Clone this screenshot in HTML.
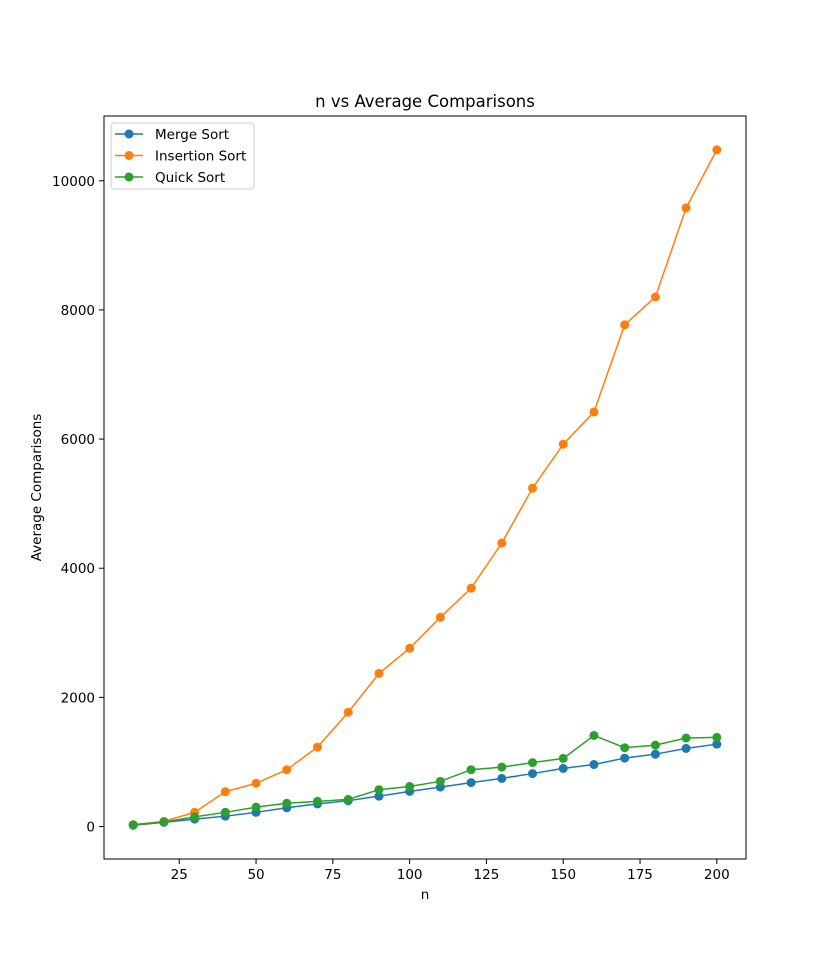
<!DOCTYPE html>
<html><head><meta charset="utf-8"><style>
html,body{margin:0;padding:0;background:#fff;}
svg text{font-family:"DejaVu Sans","Liberation Sans",sans-serif;}
</style></head><body>
<svg id="chart" width="828" height="965" xmlns="http://www.w3.org/2000/svg">
<rect width="828" height="965" fill="#fff"/>
<g id="plot"></g>
</svg>
<script>
const nValues=[10,20,30,40,50,60,70,80,90,100,110,120,130,140,150,160,170,180,190,200];
const mergeSort=[20,65,115,160,220,290,350,400,470,545,610,680,745,820,900,960,1060,1120,1210,1275];
const insertionSort=[30,80,220,540,670,880,1230,1770,2370,2760,3240,3690,4390,5240,5920,6420,7770,8200,9580,10480];
const quickSort=[25,70,150,220,300,360,390,420,570,620,700,880,920,990,1055,1410,1220,1260,1370,1380];
const xTicks=[25,50,75,100,125,150,175,200];
const yTicks=[0,2000,4000,6000,8000,10000];
const seriesNames=["Merge Sort","Insertion Sort","Quick Sort"];
const seriesColors=["#1f77b4","#ff7f0e","#2ca02c"];

const L=104,R=746,T=116,B=859;
const xMin=0.5,xMax=209.5,yMin=-503,yMax=11003;
const sx=v=>L+(v-xMin)/(xMax-xMin)*(R-L);
const sy=v=>B-(v-yMin)/(yMax-yMin)*(B-T);
const NS="http://www.w3.org/2000/svg";
const g=document.getElementById('plot');
function mk(tag,attrs,parent){const e=document.createElementNS(NS,tag);for(const k in attrs)e.setAttribute(k,attrs[k]);(parent||g).appendChild(e);return e;}

const frame=mk('rect',{x:L,y:T,width:R-L,height:B-T,fill:'none',stroke:'#000','stroke-width':1});



xTicks.forEach(t=>{
  const x=sx(t);
  const l=mk('line',{x1:x,x2:x,y1:B,y2:B+5,stroke:'#000'});
  
  
  const tx=mk('text',{x:x,y:B+20,'text-anchor':'middle','font-size':13.5});
  tx.textContent=t;
  
  
});
yTicks.forEach(t=>{
  const y=sy(t);
  const l=mk('line',{x1:L-5,x2:L,y1:y,y2:y,stroke:'#000'});
  
  
  const tx=mk('text',{x:L-9,y:y+5,'text-anchor':'end','font-size':13.5});
  tx.textContent=t;
  
  
});

const xt=mk('text',{x:(L+R)/2,y:899,'text-anchor':'middle','font-size':13.5});
xt.textContent='n';


const yt=mk('text',{x:41,y:(T+B)/2,'text-anchor':'middle','font-size':13.5,transform:`rotate(-90 41 ${(T+B)/2})`});
yt.textContent='Average Comparisons';


const tt=mk('text',{x:(L+R)/2,y:107,'text-anchor':'middle','font-size':16.5});
tt.textContent='n vs Average Comparisons';



[mergeSort,insertionSort,quickSort].forEach((vals,i)=>{
  const sg=mk('g',{});
  
  
  const pts=vals.map((v,j)=>sx(nValues[j])+','+sy(v)).join(' ');
  const pl=mk('polyline',{points:pts,fill:'none',stroke:seriesColors[i],'stroke-width':1.5},sg);
  
  
  vals.forEach((v,j)=>{
    const c=mk('circle',{cx:sx(nValues[j]),cy:sy(v),r:4.5,fill:seriesColors[i]},sg);
    
    
  });
});

const lg=mk('g',{});


mk('rect',{x:111,y:123,width:143,height:66,rx:3,fill:'#fff',stroke:'#ccc','stroke-width':1},lg);
seriesNames.forEach((n,i)=>{
  const y=134+i*21.5;
  const e=mk('g',{},lg);
  
  
  mk('line',{x1:115,x2:143,y1:y,y2:y,stroke:seriesColors[i],'stroke-width':1.5},e);
  mk('circle',{cx:129,cy:y,r:4.5,fill:seriesColors[i]},e);
  const t=mk('text',{x:155,y:y+5,'font-size':13.5},e);
  t.textContent=n;
});
</script>
</body></html>
